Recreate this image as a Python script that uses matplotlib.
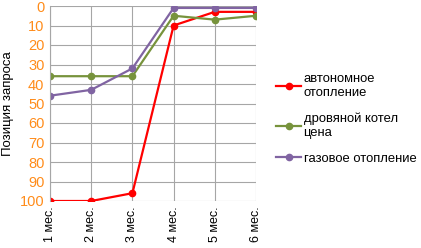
import matplotlib
matplotlib.use('Agg')
import matplotlib.pyplot as plt

plt.rcParams['font.family'] = ['Liberation Sans', 'DejaVu Sans']

months = ['1 мес.', '2 мес.', '3 мес.', '4 мес.', '5 мес.', '6 мес.']
avtonomnoe = [100, 100, 96, 10, 3, 3]
drovyanoy = [36, 36, 36, 5, 7, 5]
gazovoe = [46, 43, 32, 1, 1, 1]
series_names = ['автономное\nотопление', 'дровяной котел\nцена', 'газовое отопление']
colors = ['#FF0000', '#77933C', '#8064A2']

fig = plt.figure(figsize=(4.21, 2.48), dpi=100)
ax = fig.add_axes([50 / 421, 1 - 201 / 248, 206 / 421, 195 / 248])

x = range(len(months))
for vals, name, c in zip([avtonomnoe, drovyanoy, gazovoe], series_names, colors):
    ax.plot(x, vals, '-o', color=c, lw=1.6, ms=4.5, label=name)

ax.set_ylim(100, 0)
ax.set_xlim(0, len(months) - 1)
ax.set_yticks(range(0, 101, 10))
ax.set_xticks(list(x))
ax.set_xticklabels(months, rotation=90, fontsize=9)
ax.tick_params(axis='y', colors='#FF8C1A', labelsize=10.5, length=0, pad=4)
ax.tick_params(axis='x', length=0, pad=4)
ax.set_ylabel('Позиция запроса', fontsize=9.5, labelpad=4)
ax.grid(True, color='#A6A6A6', lw=0.8)
for s in ax.spines.values():
    s.set_visible(False)
ax.spines['left'].set_visible(True)
ax.spines['left'].set_color('#A6A6A6')

ax.legend(loc='center left', bbox_to_anchor=(1.06, 0.42), frameon=False,
          fontsize=9.4, handlelength=1.9, labelspacing=1.05, handletextpad=0.2,
          borderaxespad=0.2)

fig.savefig('out.png', dpi=100)
